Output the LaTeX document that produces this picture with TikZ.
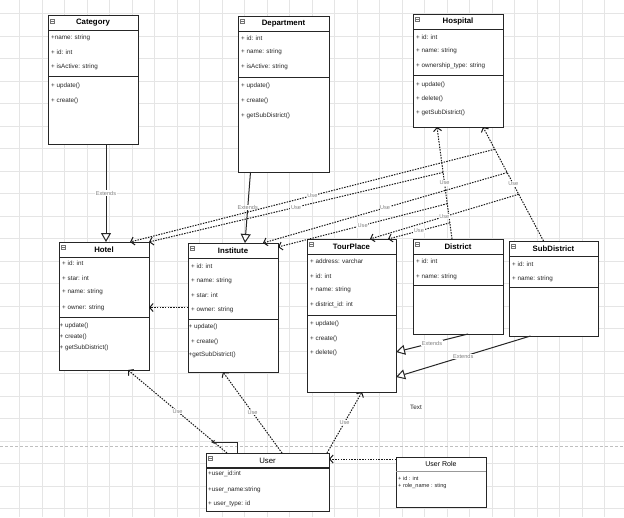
\documentclass[tikz,border=0pt]{standalone}
\usepackage{fontspec}
\setmainfont{Liberation Sans}
\usetikzlibrary{arrows.meta,calc}

\begin{document}
\begin{tikzpicture}[x=1pt, y=-1pt,
	classbox/.style={draw=black!85, line width=1pt, fill=white, inner sep=0pt, outer sep=0pt, anchor=north west},
	sepline/.style={draw=black!85, line width=1pt},
	title/.style={inner sep=0pt, font=\fontsize{7.8}{8}\selectfont\bfseries},
	attr/.style={anchor=west, inner sep=0pt, text=black!85, font=\fontsize{6.3}{7}\selectfont},
	icon/.style={draw=black!55, minimum size=4pt, inner sep=0pt,
		path picture={\draw[black!55] ([xshift=0.8pt]path picture bounding box.west) -- ([xshift=-0.8pt]path picture bounding box.east);}},
	use/.style={line width=1pt, black!90, dash pattern=on 1.5pt off 1.2pt, -{Straight Barb[length=3.5pt,width=8pt]}},
	extends/.style={line width=1pt, black!85, -{Triangle[open,length=9pt,width=10pt,fill=white]}},
	edgelabel/.style={fill=white, inner sep=0.6pt, text=black!50, font=\fontsize{5.6}{6}\selectfont}]

	% page and grid
	\useasboundingbox (0,0) rectangle (624,517);
	\fill[white] (0,0) rectangle (624,517);
	\foreach \gx in {19.2,41.7,...,620} \draw[black!10, line width=0.4pt] (\gx,0) -- (\gx,517);
	\foreach \gy in {13.3,35.8,...,515} \draw[black!10, line width=0.4pt] (0,\gy) -- (624,\gy);
	\draw[black!25, line width=0.8pt, dash pattern=on 3pt off 2pt] (0,446) -- (624,446);

	% Category
	\node[classbox, minimum width=90pt, minimum height=129pt] (category) at (48,15) {};
	\draw[sepline] (48,30.5) -- (138,30.5);
	\draw[sepline] (48,76.7) -- (138,76.7);
	\node[icon] (categoryI) at (52.5,21) {};
	\node[title] (categoryT) at (93,22.8) {Category};
	\node[attr] (category1) at (51,38) {+name: string};
	\node[attr] (category2) at (51,52) {+ id: int};
	\node[attr] (category3) at (51,67) {+ isActive: string};
	\node[attr] (category4) at (51,86) {+ update()};
	\node[attr] (category5) at (51,101) {+ create()};

	% Department
	\node[classbox, minimum width=91pt, minimum height=156pt] (department) at (238,16) {};
	\draw[sepline] (238,31) -- (329,31);
	\draw[sepline] (238,77) -- (329,77);
	\node[icon] (departmentI) at (242.5,21.5) {};
	\node[title] (departmentT) at (283.5,23.5) {Department};
	\node[attr] (department1) at (241,38) {+ id: int};
	\node[attr] (department2) at (241,52) {+ name: string};
	\node[attr] (department3) at (241,67) {+ isActive: string};
	\node[attr] (department4) at (241,86) {+ update()};
	\node[attr] (department5) at (241,101) {+ create()};
	\node[attr] (department6) at (241,116) {+ getSubDistrict()};

	% Hospital
	\node[classbox, minimum width=90pt, minimum height=113pt] (hospital) at (413,14) {};
	\draw[sepline] (413,29) -- (503,29);
	\draw[sepline] (413,75) -- (503,75);
	\node[icon] (hospitalI) at (417.5,19) {};
	\node[title] (hospitalT) at (458,21.5) {Hospital};
	\node[attr] (hospital1) at (416,37) {+ id: int};
	\node[attr] (hospital2) at (416,51) {+ name: string};
	\node[attr] (hospital3) at (416,66) {+ ownership\_type: string};
	\node[attr] (hospital4) at (416,85) {+ update()};
	\node[attr] (hospital5) at (416,99) {+ delete()};
	\node[attr] (hospital6) at (416,113) {+ getSubDistrict()};

	% Hotel
	\node[classbox, minimum width=90pt, minimum height=128pt] (hotel) at (59,242) {};
	\draw[sepline] (59,257) -- (149,257);
	\draw[sepline] (59,317) -- (149,317);
	\node[icon] (hotelI) at (63.5,247) {};
	\node[title] (hotelT) at (104,249.5) {Hotel};
	\node[attr] (hotel1) at (62,263) {+ id: int};
	\node[attr] (hotel2) at (62,278) {+ star: int};
	\node[attr] (hotel3) at (62,292) {+ name: string};
	\node[attr] (hotel4) at (62,308) {+ owner: string};
	\node[attr] (hotel5) at (59.5,326) {+ update()};
	\node[attr] (hotel6) at (59.5,337) {+ create()};
	\node[attr] (hotel7) at (59.5,348) {+ getSubDistrict()};

	% Institute
	\node[classbox, minimum width=90pt, minimum height=129pt] (institute) at (188,243) {};
	\draw[sepline] (188,258) -- (278,258);
	\draw[sepline] (188,319) -- (278,319);
	\node[icon] (instituteI) at (192.5,248) {};
	\node[title] (instituteT) at (233,250.5) {Institute};
	\node[attr] (institute1) at (191,266) {+ id: int};
	\node[attr] (institute2) at (191,281) {+ name: string};
	\node[attr] (institute3) at (191,295) {+ star: int};
	\node[attr] (institute4) at (191,310) {+ owner: string};
	\node[attr] (institute5) at (188.5,327) {+ update()};
	\node[attr] (institute6) at (191,342) {+ create()};
	\node[attr] (institute7) at (188.5,355) {+getSubDistrict()};

	% TourPlace
	\node[classbox, minimum width=89pt, minimum height=153pt] (tourplace) at (307,239) {};
	\draw[sepline] (307,254) -- (396,254);
	\draw[sepline] (307,315) -- (396,315);
	\node[icon] (tourplaceI) at (311.5,244) {};
	\node[title] (tourplaceT) at (351.5,246.5) {TourPlace};
	\node[attr] (tourplace1) at (310,261) {+ address: varchar};
	\node[attr] (tourplace2) at (310,276) {+ id: int};
	\node[attr] (tourplace3) at (310,290) {+ name: string};
	\node[attr] (tourplace4) at (310,305) {+ district\_id: int};
	\node[attr] (tourplace5) at (310,324) {+ update()};
	\node[attr] (tourplace6) at (310,339) {+ create()};
	\node[attr] (tourplace7) at (310,353) {+ delete()};

	% District
	\node[classbox, minimum width=90pt, minimum height=95pt] (district) at (413,239) {};
	\draw[sepline] (413,254) -- (503,254);
	\draw[sepline] (413,285) -- (503,285);
	\node[icon] (districtI) at (417.5,244) {};
	\node[title] (districtT) at (458,246.5) {District};
	\node[attr] (district1) at (416,261) {+ id: int};
	\node[attr] (district2) at (416,277) {+ name: string};

	% SubDistrict
	\node[classbox, minimum width=89pt, minimum height=95pt] (subdistrict) at (509,241) {};
	\draw[sepline] (509,256) -- (598,256);
	\draw[sepline] (509,287) -- (598,287);
	\node[icon] (subdistrictI) at (513.5,246) {};
	\node[title] (subdistrictT) at (553.5,248.5) {SubDistrict};
	\node[attr] (subdistrict1) at (512,264) {+ id: int};
	\node[attr] (subdistrict2) at (512,279) {+ name: string};

	% User
	\node[classbox, minimum width=123pt, minimum height=58pt] (user) at (206,453) {};
	\draw[sepline, line width=1.5pt] (206,468) -- (329,468);
	\node[icon] (userI) at (210.5,458) {};
	\node[title, font=\fontsize{7.8}{8}\selectfont] (userT) at (267.5,460.5) {User};
	\node[attr] (user1) at (208,474) {+user\_id:int};
	\node[attr] (user2) at (208,490) {+user\_name:string};
	\node[attr] (user3) at (208,504) {+ user\_type: id};

	% User Role
	\node[classbox, minimum width=90pt, minimum height=50pt] (userrole) at (396,457) {};
	\draw[black!40, line width=0.5pt] (396,471) -- (486,471);
	\node[title, font=\fontsize{7}{8}\selectfont] (userroleT) at (441,464) {User Role};
	\node[attr, font=\fontsize{5.6}{6}\selectfont] (userrole1) at (398,478) {+ id : int};
	\node[attr, font=\fontsize{5.6}{6}\selectfont] (userrole2) at (398,486) {+ role\_name : sting};

	\node[attr, anchor=center] (textlbl) at (416,407) {Text};

	% Extends
	\draw[extends] ([xshift=13pt]category.south) -- node[edgelabel] {Extends} ([xshift=2pt]hotel.north);
	\draw[extends] ([xshift=-33pt]department.south) -- node[edgelabel] {Extends} ([xshift=12pt]institute.north);
	\draw[extends] ([xshift=10pt]district.south) -- node[edgelabel] {Extends} ($(tourplace.north east)+(0,113)$);
	\draw[extends] ([xshift=-23pt]subdistrict.south) -- node[edgelabel] {Extends} ($(tourplace.north east)+(0,138)$);

	% Use towards Hospital, with points for the other Use lines
	\draw[use] ([xshift=-6pt]district.north) -- coordinate[pos=0.595] (dh1) coordinate[pos=0.315] (dh2) coordinate[pos=0.144] (dh3) node[edgelabel, pos=0.5] {Use} ([xshift=-21pt]hospital.south);
	\draw[use] ([xshift=-10pt]subdistrict.north) -- coordinate[pos=0.805] (sh1) coordinate[pos=0.6] (sh2) coordinate[pos=0.41] (sh3) node[edgelabel, pos=0.5] {Use} ([xshift=25pt]hospital.south);

	\draw[use] (sh1) -- node[edgelabel] {Use} ([xshift=26pt]hotel.north);
	\draw[use] (dh1) -- node[edgelabel] {Use} (hotel.north east);
	\draw[use] (sh2) -- node[edgelabel] {Use} ([xshift=30pt]institute.north);
	\draw[use] (dh2) -- node[edgelabel] {Use} ([yshift=-4pt]institute.north east);
	\draw[use] (sh3) -- node[edgelabel] {Use} ([xshift=18.5pt]tourplace.north);
	\draw[use] (dh3) -- node[edgelabel] {Use} ([xshift=36.5pt]tourplace.north);
	\draw[use] (institute.west) -- (institute.west -| hotel.east);

	% Use from User
	\draw[use] ([xshift=-40.5pt]user.north) -- node[edgelabel] {Use} ([xshift=24pt]hotel.south);
	\draw[use] ([xshift=14.5pt]user.north) -- node[edgelabel] {Use} ([xshift=-10pt]institute.south);
	\draw[use] ([xshift=-2pt]user.north east) -- node[edgelabel] {Use} ([xshift=10.5pt]tourplace.south);
	\draw[use] ([yshift=-2pt]userrole.north west) -- ([yshift=-2pt]userrole.north west -| user.east);
	\coordinate (userloop) at (211,442);
	\draw[line width=1pt, black!85, -{Stealth[length=4pt,width=4pt]}] ([xshift=-30.5pt]user.north) |- (userloop);
\end{tikzpicture}
\end{document}
